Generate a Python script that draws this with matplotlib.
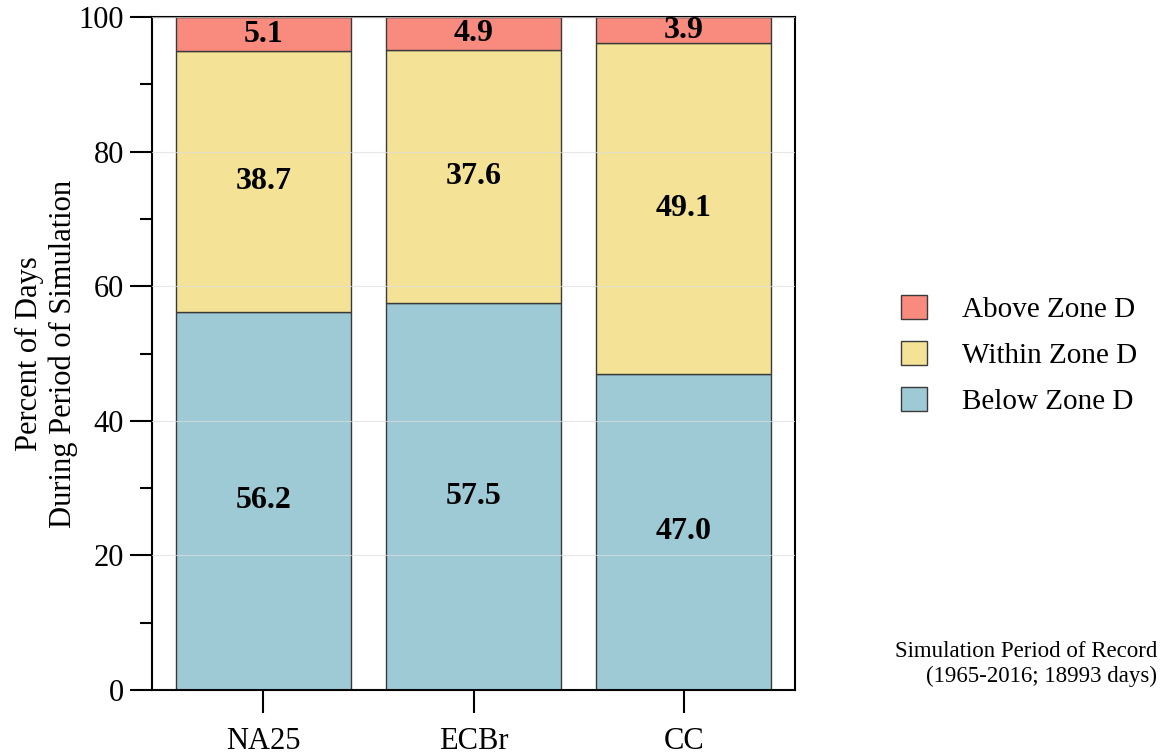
import numpy as np
import matplotlib
matplotlib.use('Agg')
import matplotlib.pyplot as plt
from matplotlib.patches import Patch

plt.rcParams['font.family'] = ['Liberation Serif', 'DejaVu Serif']

# values
scenarios = ['NA25', 'ECBr', 'CC']
below = [56.2, 57.5, 47.0]
within = [38.7, 37.6, 49.1]
above = [5.1, 4.9, 3.9]
series_names = ['Below Zone D', 'Within Zone D', 'Above Zone D']
colors = ['#9ECAD6', '#F4E397', '#F98B7E']

fig = plt.figure(figsize=(11.62, 7.54), dpi=100)
ax = fig.add_axes([152 / 1162, 64 / 754, (795 - 152) / 1162, (690 - 17) / 754])

x = np.arange(len(scenarios))
bottom = np.zeros(len(scenarios))
for vals, col in zip([below, within, above], colors):
    vals = np.array(vals)
    ax.bar(x, vals, width=0.83, bottom=bottom, color=col, edgecolor='#3a3a3a',
           linewidth=1.0, zorder=2)
    for xi, b, v in zip(x, bottom, vals):
        ax.text(xi, b + v / 2, f'{v:.1f}', ha='center', va='center',
                fontsize=23, fontweight='bold', zorder=4)
    bottom += vals

ax.set_xlim(-0.53, 2.53)
ax.set_ylim(0, 100)
ax.set_xticks(x)
ax.set_xticklabels(scenarios, fontsize=22)
ax.set_yticks(np.arange(0, 101, 20))
ax.set_yticks(np.arange(10, 100, 20), minor=True)
ax.tick_params(axis='y', which='major', length=16, width=1.5, labelsize=22, pad=4)
ax.tick_params(axis='y', which='minor', length=8.5, width=1.5)
ax.tick_params(axis='x', which='major', length=16.5, width=1.5, pad=10)
for s in ax.spines.values():
    s.set_linewidth(1.5)
ax.grid(axis='y', color='#dddddd', linewidth=0.8, alpha=0.7, zorder=3)
ax.set_axisbelow(False)

# two-line y label, placed by hand to the left of the tick labels
fig.text(46 / 1162, 1 - 354 / 754, 'Percent of Days\nDuring Period of Simulation',
         rotation=90, ha='center', va='center', fontsize=22, linespacing=1.2)

handles = [Patch(facecolor=c, edgecolor='#3a3a3a', linewidth=1.0) for c in colors]
fig.legend(handles[::-1], series_names[::-1], loc='center left',
           bbox_to_anchor=(901 / 1162, 1 - 355 / 754), frameon=False, fontsize=21,
           borderaxespad=0, borderpad=0,
           handlelength=0.9, handleheight=0.9, handletextpad=1.2, labelspacing=0.6)

fig.text(1157 / 1162, 1 - 664 / 754, 'Simulation Period of Record\n(1965-2016; 18993 days)',
         ha='right', va='center', fontsize=16.5, linespacing=1.25)

fig.savefig('out.png', dpi=100)
